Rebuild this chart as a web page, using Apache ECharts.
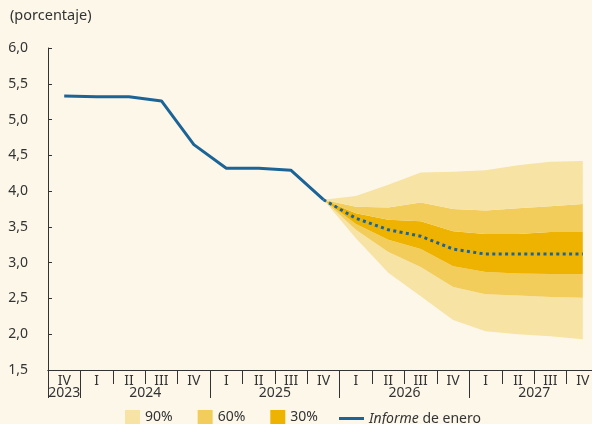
<!DOCTYPE html>
<html>
<head>
<meta charset="utf-8">
<script src="https://cdn.jsdelivr.net/npm/echarts@6/dist/echarts.min.js"></script>
<style>
  html, body { margin: 0; padding: 0; background: #FDF7EA; }
  #chart { width: 592px; height: 424px; }
</style>
</head>
<body>
<div id="chart"></div>
<script>
// Quarters shown on the horizontal axis, with their year
const quarters = ['IV', 'I', 'II', 'III', 'IV', 'I', 'II', 'III', 'IV', 'I', 'II', 'III', 'IV', 'I', 'II', 'III', 'IV'];
const quarterYears = ['2023', '2024', '2024', '2024', '2024', '2025', '2025', '2025', '2025',
                      '2026', '2026', '2026', '2026', '2027', '2027', '2027', '2027'];

// Vertical axis ticks
const yTicks = [1.5, 2.0, 2.5, 3.0, 3.5, 4.0, 4.5, 5.0, 5.5, 6.0];

// Observed path (IV 2023 .. IV 2025)
const history = [5.33, 5.32, 5.32, 5.26, 4.65, 4.32, 4.32, 4.29, 3.88];

// Projection from IV 2025 to IV 2027
const forecastStart = 8;
const central = [3.88, 3.62, 3.46, 3.37, 3.19, 3.12, 3.12, 3.12, 3.12];
const hi90 = [3.88, 3.93, 4.09, 4.26, 4.27, 4.29, 4.36, 4.41, 4.42];
const hi60 = [3.88, 3.78, 3.77, 3.84, 3.75, 3.73, 3.76, 3.79, 3.82];
const hi30 = [3.88, 3.69, 3.60, 3.58, 3.44, 3.40, 3.40, 3.43, 3.43];
const lo30 = [3.88, 3.54, 3.32, 3.19, 2.95, 2.87, 2.85, 2.84, 2.84];
const lo60 = [3.88, 3.46, 3.15, 2.94, 2.66, 2.56, 2.54, 2.52, 2.51];
const lo90 = [3.88, 3.34, 2.86, 2.53, 2.20, 2.04, 2.00, 1.97, 1.93];

const bandNames = ['90%', '60%', '30%'];
const lineName = 'Informe de enero';

const C90 = '#F7E3A3', C60 = '#F2CD5C', C30 = '#EDB300', BLUE = '#1C6496';
const TXT = '#333333';
const FONT = 'Noto Sans';

const n = quarters.length;
const pad = arr => Array(forecastStart).fill('-').concat(arr);
const diff = (a, b) => a.map((v, i) => +(v - b[i]).toFixed(3));

// Year groups: names, boundaries and centres in quarter units
const yearNames = [];
const yearBounds = [0];
const yearCentres = [];
let start = 0;
for (let i = 1; i <= n; i++) {
  if (i === n || quarterYears[i] !== quarterYears[start]) {
    yearNames.push(quarterYears[start]);
    yearCentres.push((start + i) / 2);
    yearBounds.push(i);
    start = i;
  }
}

function bandSeries(name, values, color) {
  return {
    name: name, type: 'line', stack: 'fan', data: pad(values),
    symbol: 'none', silent: true, lineStyle: { width: 0, opacity: 0 },
    areaStyle: { color: color, opacity: 1 }, itemStyle: { color: color }, z: 1
  };
}

const chart = echarts.init(document.getElementById('chart'), null, { renderer: 'canvas' });
chart.setOption({
  backgroundColor: '#FDF7EA',
  animation: false,
  textStyle: { fontFamily: FONT },
  title: {
    text: '(porcentaje)', left: 10, top: 8, padding: 0,
    textStyle: { fontFamily: FONT, fontSize: 14.5, fontWeight: 'normal', color: TXT }
  },
  grid: { left: 48, width: 551, top: 48, height: 322, outerBoundsMode: 'none', containLabel: false },
  legend: [
    {
      data: bandNames.map(nm => ({ name: nm, icon: 'rect' })),
      left: 125, top: 410, padding: 0, itemWidth: 15, itemHeight: 15, itemGap: 25,
      selectedMode: false,
      textStyle: { fontFamily: FONT, fontSize: 14, color: TXT, padding: [1, 0, 0, 0] }
    },
    {
      data: [{ name: lineName, icon: 'rect' }],
      left: 339, top: 412, padding: 0, itemWidth: 25, itemHeight: 3, selectedMode: false,
      formatter: () => '{i|Informe} de enero',
      textStyle: {
        fontFamily: FONT, fontSize: 14, color: TXT, padding: [1, 0, 0, 0],
        rich: { i: { fontStyle: 'italic', fontFamily: FONT, fontSize: 14, color: TXT } }
      }
    }
  ],
  xAxis: [
    {
      // quarter labels and short ticks
      type: 'category', data: quarters, boundaryGap: true,
      axisLine: { lineStyle: { color: TXT, width: 1 } },
      axisTick: { show: true, interval: 0, length: 14, lineStyle: { color: TXT } },
      axisLabel: { interval: 0, margin: 4, fontSize: 14, color: TXT, fontFamily: FONT },
      splitLine: { show: false }
    },
    {
      // long ticks at year boundaries, year labels centred under each group
      type: 'value', min: 0, max: n, position: 'bottom',
      axisLine: { show: true, lineStyle: { color: TXT, width: 1 } },
      axisTick: {
        show: true, customValues: yearBounds, length: 28,
        lineStyle: { color: TXT, width: 1 }
      },
      axisLabel: {
        customValues: yearCentres, margin: 16, fontSize: 14, color: TXT, fontFamily: FONT,
        formatter: v => yearNames[yearCentres.indexOf(v)]
      },
      splitLine: { show: false }
    }
  ],
  yAxis: {
    type: 'value', min: yTicks[0], max: yTicks[yTicks.length - 1], interval: 0.5,
    axisLine: { show: true, lineStyle: { color: TXT, width: 1 } },
    axisTick: { show: true, inside: true, length: 4, lineStyle: { color: TXT } },
    axisLabel: {
      margin: 20, fontSize: 14, color: TXT, fontFamily: FONT,
      formatter: v => v.toFixed(1).replace('.', ',')
    },
    splitLine: { show: false }
  },
  series: [
    // invisible base of the stacked fan
    {
      name: 'base', type: 'line', stack: 'fan', data: pad(lo90),
      symbol: 'none', silent: true, lineStyle: { opacity: 0, width: 0 }, z: 1
    },
    bandSeries('90%', diff(lo60, lo90), C90),
    bandSeries('60%', diff(lo30, lo60), C60),
    bandSeries('30%', diff(hi30, lo30), C30),
    bandSeries('60%', diff(hi60, hi30), C60),
    bandSeries('90%', diff(hi90, hi60), C90),
    {
      name: lineName, type: 'line', data: history, symbol: 'none', z: 5,
      lineStyle: { color: BLUE, width: 3 }, itemStyle: { color: BLUE }
    },
    {
      name: lineName, type: 'line', data: pad(central), symbol: 'none', z: 5,
      lineStyle: { color: BLUE, width: 3, type: [3, 3.4], cap: 'butt' }, itemStyle: { color: BLUE }
    }
  ]
});
</script>
</body>
</html>
